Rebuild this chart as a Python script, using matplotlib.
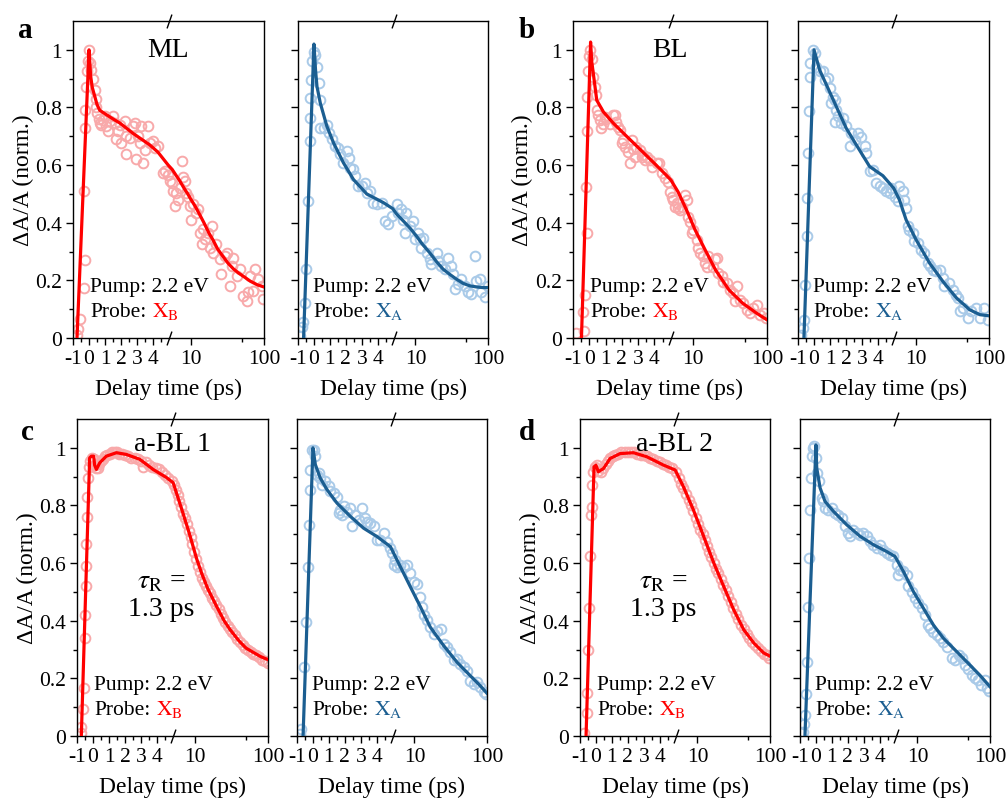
import numpy as np
import matplotlib
matplotlib.use("Agg")
import matplotlib.pyplot as plt
from matplotlib.offsetbox import TextArea, HPacker, VPacker, AnnotationBbox

plt.rcParams['font.family'] = ['Liberation Serif', 'DejaVu Serif']
plt.rcParams['mathtext.fontset'] = 'stix'

# ---- data (delay time in ps, normalised dA/A) ----
# a: ML, probe X_B
a_red_t = [-0.75, -0.69, -0.58, -0.33, -0.27, -0.31, -0.27, -0.27, -0.21, -0.125, -0.06, 0, 0.08, 0.15, 0.25,
           0.35, 0.42, 0.46, 0.52, 0.6, 0.67, 0.77, 0.875, 0.98, 1.08, 1.19, 1.29, 1.5, 1.6, 1.71, 1.81, 1.92,
           2.02, 2.23, 2.29, 2.33, 2.54, 2.75, 2.85, 2.96, 3.06, 3.17, 3.27, 3.375, 3.48, 3.69, 3.79, 4.0, 4.1,
           4.31, 4.625, 4.73, 4.94, 5.1, 5.4, 5.68, 5.96, 6.3, 6.6, 7.0, 7.4, 7.8, 8.2, 8.6, 9.1, 9.6, 10.1,
           10.7, 11.8, 12.5, 13.2, 13.9, 14.6, 15.4, 17.2, 18.1, 19.1, 20.2, 22.3, 24.8, 26.1, 29.0, 30.6, 34.2,
           36.1, 37.8, 42, 46.8, 52, 57.7, 61, 64.3, 71.5, 75.4, 83.6, 93, 98]
a_red_y = [0.01, 0.03, 0.066, 0.175, 0.27, 0.51, 0.73, 0.79, 0.87, 0.925, 0.96, 1.0, 0.954, 0.93, 0.90,
           0.86, 0.83, 0.80, 0.78, 0.76, 0.746, 0.74, 0.758, 0.77, 0.735, 0.717, 0.752, 0.77, 0.746, 0.69, 0.717,
           0.74, 0.677, 0.752, 0.637, 0.70, 0.695, 0.735, 0.746, 0.62, 0.70, 0.677, 0.735, 0.608, 0.654, 0.735,
           0.677, 0.683, 0.66, 0.665, 0.573, 0.579, 0.567, 0.544, 0.539, 0.51, 0.458, 0.504, 0.48, 0.52, 0.614,
           0.56, 0.544, 0.504, 0.49, 0.458, 0.41, 0.464, 0.435, 0.446, 0.366, 0.325, 0.377, 0.343, 0.366, 0.314,
           0.389, 0.296, 0.325, 0.273, 0.221, 0.284, 0.296, 0.181, 0.25, 0.279, 0.216, 0.239, 0.146, 0.129,
           0.158, 0.216, 0.164, 0.239, 0.204, 0.181, 0.135]
a_red_fit_t = [-0.75, 0, 0.1, 0.2, 0.35, 0.5, 0.67, 1.08, 1.5, 1.92, 2.75, 3.79, 4.3, 4.94, 5.5, 6.2, 7, 8, 9,
               10, 11.5, 13, 15, 17.5, 20, 23, 27, 32, 38, 45, 55, 65, 80, 100]
a_red_fit_y = [0, 1.0, 0.91, 0.87, 0.84, 0.81, 0.79, 0.775, 0.76, 0.746, 0.71, 0.67, 0.645, 0.60, 0.585,
               0.565, 0.545, 0.52, 0.50, 0.48, 0.455, 0.43, 0.40, 0.365, 0.34, 0.31, 0.285, 0.26, 0.24, 0.225,
               0.21, 0.197, 0.185, 0.177]

# a: ML, probe X_A
a_blue_t = [-0.85, -0.75, -0.69, -0.58, -0.48, -0.375, -0.27, -0.23, -0.23, -0.17, -0.125, -0.02, 0.08, 0.19,
            0.29, 0.40, 0.4, 0.6, 0.81, 0.92, 1.13, 1.33, 1.54, 1.65, 1.85, 2.06, 2.17, 2.27, 2.48, 2.58, 2.79,
            3.0, 3.21, 3.31, 3.52, 3.73, 3.94, 4.25, 4.46, 4.67, 4.875, 5.5, 5.8, 6.4, 6.8, 7.2, 7.5, 8.4, 9.3,
            9.8, 10.9, 11.5, 12.1, 12.8, 14.2, 15.7, 16.5, 19.6, 20.5, 22.8, 25.3, 28.2, 31, 33.2, 35, 38.7, 43,
            47.8, 53.1, 59, 65.6, 69, 77, 81, 90, 99]
a_blue_y = [0.008, 0.037, 0.057, 0.123, 0.24, 0.475, 0.683, 0.764, 0.833, 0.896, 0.96, 0.994, 0.983, 0.942,
            0.885, 0.827, 0.729, 0.729, 0.74, 0.712, 0.689, 0.666, 0.66, 0.637, 0.608, 0.648, 0.625, 0.59, 0.585,
            0.562, 0.527, 0.527, 0.539, 0.504, 0.51, 0.47, 0.464, 0.47, 0.406, 0.394, 0.423, 0.464, 0.435, 0.446,
            0.41, 0.366, 0.435, 0.389, 0.406, 0.343, 0.366, 0.343, 0.314, 0.348, 0.296, 0.273, 0.256, 0.296,
            0.268, 0.25, 0.239, 0.279, 0.25, 0.221, 0.17, 0.187, 0.204, 0.181, 0.158, 0.152, 0.285, 0.198,
            0.204, 0.158, 0.141, 0.181]
a_blue_fit_t = [-0.65, 0, 0.1, 0.19, 0.40, 0.81, 1.23, 1.85, 2.48, 3.31, 4.35, 4.94, 5.5, 6.8, 8.5, 10.3, 12.5,
                15.7, 19.5, 24, 30, 36.8, 45, 56, 70, 85, 100]
a_blue_fit_y = [0, 1.02, 0.93, 0.873, 0.815, 0.735, 0.677, 0.608, 0.55, 0.50, 0.47, 0.449, 0.43, 0.406, 0.38,
                0.354, 0.325, 0.296, 0.265, 0.239, 0.22, 0.204, 0.19, 0.181, 0.177, 0.175, 0.175]

# b: BL, probe X_B
b_red_t = [-0.79, -0.34, -0.38, -0.28, -0.14, -0.18, -0.14, -0.14, -0.08, -0.01, 0.07, 0.19, 0.23, 0.34, 0.40,
           0.48, 0.54, 0.64, 0.75, 0.85, 0.95, 1.05, 1.26, 1.47, 1.57, 1.67, 1.77, 1.88, 1.98, 2.08, 2.19, 2.39,
           2.49, 2.6, 2.7, 2.8, 2.9, 3.11, 3.21, 3.32, 3.42, 3.52, 3.73, 3.83, 4.14, 4.3, 4.45, 4.65, 4.86, 4.96,
           5.15, 5.4, 5.7, 6.0, 6.3, 6.7, 7.1, 7.8, 8.2, 8.7, 9.1, 9.6, 10.1, 11.2, 11.8, 12.5, 13.8, 14.5, 15.3,
           16.1, 18.9, 19.9, 21, 22.1, 24.5, 25.8, 28.6, 31.7, 35.2, 37.1, 39, 43.3, 48, 53.4, 59.2, 65.7, 72.9,
           81, 90, 97]
b_red_y = [0.017, 0.023, 0.09, 0.15, 0.363, 0.525, 0.72, 0.836, 0.928, 0.98, 0.998, 0.969, 0.905, 0.87, 0.842,
           0.79, 0.773, 0.755, 0.727, 0.744, 0.767, 0.761, 0.744, 0.773, 0.773, 0.75, 0.732, 0.721, 0.675,
           0.686, 0.663, 0.646, 0.606, 0.686, 0.657, 0.629, 0.663, 0.652, 0.629, 0.634, 0.617, 0.629, 0.617,
           0.594, 0.606, 0.606, 0.571, 0.554, 0.542, 0.507, 0.49, 0.479, 0.456, 0.467, 0.45, 0.444, 0.456,
           0.496, 0.479, 0.421, 0.404, 0.363, 0.375, 0.34, 0.311, 0.294, 0.283, 0.26, 0.248, 0.283, 0.248,
           0.273, 0.279, 0.225, 0.216, 0.196, 0.19, 0.167, 0.156, 0.127, 0.179, 0.133, 0.121, 0.098, 0.087,
           0.104, 0.115, 0.081, 0.087, 0.069]
b_red_fit_t = [-0.48, 0.08, 0.15, 0.25, 0.46, 0.875, 1.5, 2.33, 3.17, 4.0, 4.625, 5.04, 6.3, 8.2, 10.7, 14.6,
               20.2, 30.6, 46.8, 71.5, 100]
b_red_fit_y = [0, 1.027, 0.96, 0.917, 0.825, 0.784, 0.744, 0.698, 0.652, 0.606, 0.571, 0.548, 0.507, 0.444,
               0.375, 0.306, 0.236, 0.167, 0.121, 0.087, 0.063]

# b: BL, probe X_A
b_blue_t = [-0.79, -0.69, -0.63, -0.54, -0.44, -0.44, -0.38, -0.31, -0.27, -0.23, -0.06, 0.04, 0.14, 0.35, 0.56,
            0.66, 0.87, 0.98, 1.18, 1.29, 1.08, 1.39, 1.29, 1.49, 1.7, 1.81, 2.01, 2.22, 2.33, 2.53, 2.74, 2.95,
            3.16, 3.26, 3.47, 3.68, 3.89, 4.09, 4.3, 4.51, 4.72, 4.82, 5.1, 5.6, 5.9, 6.6, 6.9, 7.3, 7.7, 8.1,
            9.0, 9.5, 10.6, 11.8, 12.9, 14.5, 15.3, 17.0, 18.9, 21, 23.2, 24.5, 28.7, 31.9, 35.8, 37.5, 39.5,
            43.8, 51.3, 57, 66.5, 74.8, 86.7, 96.4]
b_blue_y = [0.012, 0.035, 0.064, 0.185, 0.353, 0.486, 0.642, 0.786, 0.904, 0.954, 1.0, 0.988, 0.942, 0.925,
            0.925, 0.896, 0.902, 0.867, 0.838, 0.827, 0.817, 0.792, 0.751, 0.769, 0.746, 0.763, 0.734, 0.665,
            0.711, 0.688, 0.711, 0.699, 0.665, 0.642, 0.578, 0.584, 0.538, 0.526, 0.52, 0.509, 0.503, 0.52,
            0.49, 0.474, 0.526, 0.509, 0.48, 0.451, 0.387, 0.376, 0.364, 0.335, 0.329, 0.306, 0.295, 0.26,
            0.249, 0.237, 0.231, 0.237, 0.208, 0.179, 0.191, 0.168, 0.15, 0.139, 0.092, 0.104, 0.069, 0.092,
            0.104, 0.069, 0.104, 0.064]
b_blue_fit_t = [-0.63, 0, 0.35, 0.77, 1.39, 2.01, 2.64, 3.47, 4.3, 4.97, 5.9, 7.3, 10.0, 15.3, 23.2, 35.8, 54.4,
                74.8, 100]
b_blue_fit_y = [0, 1.0, 0.93, 0.879, 0.803, 0.728, 0.67, 0.595, 0.563, 0.52, 0.48, 0.41, 0.341, 0.26, 0.197,
                0.139, 0.098, 0.081, 0.077]

# c: a-BL 1, probe X_B
c_red_t = [-0.73, -0.72, -0.63, -0.58, -0.52, -0.51, -0.46, -0.45, -0.42, -0.38, -0.35, -0.31, -0.25, -0.17,
           -0.05, 0.05, 0.12, 0.2, 0.3, 0.4, 0.5, 0.6, 0.75, 0.9, 1.05, 1.2, 1.35, 1.5, 1.65, 1.8, 2.0, 2.2,
           2.4, 2.6, 2.8, 3.0, 3.1, 3.3, 3.5, 3.7, 3.9, 4.1, 4.3, 4.5, 4.7, 4.9, 5.2, 5.5, 5.8, 6.1, 6.5, 6.9,
           7.3, 7.7, 8.2, 8.7, 9.2, 9.8, 10.4, 11, 11.7, 12.4, 13.2, 14, 15, 16, 17, 18, 19.5, 21, 22.5, 24, 26,
           28, 30, 32.5, 35, 38, 41, 45, 49, 53, 58, 63, 69, 76, 83, 91, 99]
c_red_y = [0.01, 0.03, 0.095, 0.165, 0.34, 0.42, 0.52, 0.59, 0.665, 0.76, 0.83, 0.895, 0.935, 0.955, 0.965,
           0.96, 0.94, 0.93, 0.93, 0.945, 0.955, 0.96, 0.97, 0.975, 0.98, 0.985, 0.985, 0.985, 0.98, 0.98,
           0.975, 0.97, 0.965, 0.965, 0.96, 0.955, 0.935, 0.95, 0.94, 0.935, 0.93, 0.925, 0.915, 0.905, 0.895,
           0.885, 0.87, 0.855, 0.835, 0.815, 0.795, 0.77, 0.755, 0.735, 0.71, 0.69, 0.665, 0.64, 0.615, 0.59,
           0.57, 0.55, 0.535, 0.52, 0.505, 0.495, 0.48, 0.47, 0.455, 0.44, 0.425, 0.41, 0.395, 0.38, 0.37,
           0.36, 0.35, 0.335, 0.325, 0.315, 0.305, 0.30, 0.29, 0.285, 0.28, 0.275, 0.265, 0.26, 0.255]
c_red_fit_t = [-0.73, -0.21, -0.1, 0.04, 0.1, 0.21, 0.42, 0.83, 1.46, 2.08, 2.92, 3.75, 4.58, 5.0, 6.5, 8.4,
               10.5, 12.5, 15, 19.7, 25, 30, 40, 50, 63, 80, 100]
c_red_fit_y = [0, 0.965, 0.971, 0.971, 0.94, 0.925, 0.948, 0.971, 0.983, 0.977, 0.96, 0.925, 0.897, 0.879,
               0.79, 0.70, 0.615, 0.56, 0.51, 0.45, 0.40, 0.37, 0.33, 0.305, 0.29, 0.275, 0.265]

# c: a-BL 1, probe X_A
c_blue_t = [-0.83, -0.75, -0.54, -0.41, -0.33, -0.27, -0.2, -0.16, -0.06, 0.05, 0.15, 0.26, 0.36, 0.46, 0.57,
            0.78, 0.99, 1.09, 1.3, 1.51, 1.62, 1.72, 1.82, 1.93, 2.14, 2.35, 2.45, 2.66, 2.87, 3.08, 3.29, 3.39,
            3.6, 3.81, 4.02, 4.23, 4.44, 4.65, 4.82, 4.96, 5.2, 5.4, 5.7, 6.4, 7.1, 7.9, 8.8, 9.7, 10.8, 12.1,
            12.8, 13.4, 14.9, 16.5, 18.5, 20.6, 22.9, 25.2, 28.1, 31.2, 34.8, 38.6, 43, 47.8, 53.2, 58.9, 65.5,
            72.8, 81, 90, 98]
c_blue_y = [0.006, 0.023, 0.238, 0.395, 0.587, 0.733, 0.855, 0.924, 0.994, 0.994, 0.971, 0.907, 0.913, 0.895,
            0.872, 0.884, 0.866, 0.849, 0.843, 0.831, 0.773, 0.785, 0.767, 0.797, 0.779, 0.791, 0.727, 0.767,
            0.75, 0.791, 0.756, 0.744, 0.738, 0.727, 0.68, 0.68, 0.703, 0.674, 0.651, 0.634, 0.593, 0.61, 0.587,
            0.593, 0.587, 0.593, 0.564, 0.535, 0.529, 0.483, 0.448, 0.419, 0.401, 0.378, 0.355, 0.366, 0.372,
            0.32, 0.308, 0.291, 0.262, 0.267, 0.25, 0.238, 0.227, 0.192, 0.18, 0.186, 0.169, 0.151, 0.145]
c_blue_fit_t = [-0.62, 0, 0.15, 0.46, 0.88, 1.51, 2.35, 3.18, 4.02, 4.86, 6.4, 8.8, 12.1, 16.5, 25.2, 38.6, 58.9,
                81, 100]
c_blue_fit_y = [0, 1.0, 0.942, 0.895, 0.855, 0.808, 0.762, 0.721, 0.692, 0.657, 0.587, 0.517, 0.448, 0.378,
                0.314, 0.256, 0.209, 0.174, 0.148]

# d: a-BL 2, probe X_B
d_red_t = [-0.75, -0.58, -0.54, -0.48, -0.41, -0.37, -0.33, -0.27, -0.27, -0.2, -0.06, 0.04, 0.15, 0.3, 0.45,
           0.6, 0.75, 0.9, 1.05, 1.2, 1.4, 1.6, 1.8, 2.0, 2.2, 2.4, 2.6, 2.8, 3.0, 3.2, 3.4, 3.6, 3.8, 4.0, 4.2,
           4.4, 4.6, 4.8, 5.1, 5.5, 6.0, 6.4, 7.0, 7.6, 8.2, 8.8, 9.5, 10.2, 11, 11.8, 12.6, 13.5, 14.5, 15.6,
           16.8, 18, 19.4, 21, 22.7, 24.5, 26.5, 28.7, 31, 33.5, 36.5, 40, 43.5, 47.5, 52, 57, 62, 68, 75, 82,
           90, 98]
d_red_y = [0.012, 0.08, 0.15, 0.30, 0.444, 0.623, 0.767, 0.796, 0.871, 0.917, 0.934, 0.94, 0.92, 0.915, 0.93,
           0.945, 0.955, 0.965, 0.97, 0.975, 0.98, 0.985, 0.985, 0.985, 0.985, 0.985, 0.98, 0.975, 0.975, 0.97,
           0.965, 0.96, 0.955, 0.95, 0.945, 0.94, 0.935, 0.93, 0.915, 0.895, 0.875, 0.86, 0.84, 0.82, 0.80,
           0.78, 0.755, 0.735, 0.715, 0.70, 0.68, 0.66, 0.64, 0.62, 0.60, 0.58, 0.565, 0.545, 0.525, 0.505,
           0.485, 0.465, 0.445, 0.425, 0.405, 0.385, 0.37, 0.355, 0.34, 0.325, 0.315, 0.305, 0.295, 0.285,
           0.28, 0.272]
d_red_fit_t = [-0.62, -0.12, 0.0, 0.15, 0.47, 0.89, 1.52, 2.35, 3.19, 4.24, 4.97, 6.4, 8.8, 12.2, 16.8, 23,
               31.6, 43.4, 59.6, 82, 100]
d_red_fit_y = [0, 0.934, 0.94, 0.917, 0.928, 0.963, 0.98, 0.983, 0.969, 0.94, 0.923, 0.865, 0.784, 0.692, 0.6,
               0.519, 0.438, 0.369, 0.323, 0.288, 0.277]

# d: a-BL 2, probe X_A
d_blue_t = [-0.83, -0.75, -0.69, -0.62, -0.58, -0.48, -0.41, -0.37, -0.33, -0.27, -0.2, -0.1, 0.0, 0.09, 0.21,
            0.36, 0.46, 0.57, 0.78, 0.99, 1.2, 1.41, 1.62, 1.82, 2.03, 2.14, 2.35, 2.56, 2.77, 2.97, 3.18, 3.39,
            3.6, 3.81, 4.02, 4.23, 4.44, 4.65, 4.86, 5.2, 5.4, 5.7, 6.4, 7.1, 7.5, 8.3, 9.2, 10.2, 11.4, 12.7,
            14.1, 14.9, 16.6, 18.5, 20.6, 22.8, 25.2, 29.7, 33.1, 36.9, 40.9, 45.4, 50.3, 55.9, 62, 68.6, 76.1,
            84.4, 91, 97]
d_blue_y = [0.014, 0.043, 0.072, 0.147, 0.258, 0.449, 0.617, 0.785, 0.896, 0.971, 1.0, 1.006, 0.965, 0.913,
            0.884, 0.826, 0.814, 0.79, 0.784, 0.79, 0.774, 0.768, 0.756, 0.727, 0.704, 0.693, 0.716, 0.704,
            0.698, 0.704, 0.693, 0.675, 0.664, 0.652, 0.664, 0.646, 0.635, 0.629, 0.623, 0.594, 0.559, 0.577,
            0.571, 0.559, 0.519, 0.501, 0.478, 0.46, 0.443, 0.42, 0.385, 0.374, 0.362, 0.35, 0.339, 0.327, 0.31,
            0.269, 0.263, 0.281, 0.269, 0.246, 0.234, 0.211, 0.2, 0.194, 0.176, 0.194, 0.165, 0.155]
d_blue_fit_t = [-0.69, 0, 0.05, 0.26, 0.57, 1.09, 1.93, 2.77, 3.6, 4.44, 4.96, 6.4, 8.8, 12.1, 16.6, 22.8, 35,
                53, 72.5, 100]
d_blue_fit_y = [0, 1.01, 0.93, 0.861, 0.814, 0.78, 0.733, 0.693, 0.664, 0.64, 0.623, 0.571, 0.501, 0.443,
                0.385, 0.339, 0.292, 0.246, 0.211, 0.171]

titles = ['ML', 'BL', 'a-BL 1', 'a-BL 2']
letters = ['a', 'b', 'c', 'd']
x_ticks = [-1, 0, 1, 2, 3, 4, 10, 100]
x_ticklabels = ['-1', '0', '1', '2', '3', '4', '10', '100']
y_ticks = [0, 0.2, 0.4, 0.6, 0.8, 1.0]
y_ticklabels = ['0', '0.2', '0.4', '0.6', '0.8', '1']

RED_LINE, RED_PT = '#ff0000', '#f8a9aa'
BLUE_LINE, BLUE_PT = '#1b5e91', '#a9cae8'

# broken axis: linear up to 5 ps, log above
BREAK = 5.0
C = 4.55


def fwd(x):
    x = np.asarray(x, dtype=float)
    return np.where(x <= BREAK, x, BREAK + C * np.log10(np.maximum(x, BREAK) / BREAK))


def inv(u):
    u = np.asarray(u, dtype=float)
    return np.where(u <= BREAK, u, BREAK * 10 ** ((np.clip(u, BREAK, 40) - BREAK) / C))


W, H = 1006, 803
fig = plt.figure(figsize=(W / 100, H / 100), dpi=100)


def make_ax(l, t, r, b):
    return fig.add_axes([l / W, 1 - b / H, (r - l) / W, (b - t) / H])


def setup(ax, left_panel):
    ax.set_xscale('function', functions=(fwd, inv))
    ax.set_xlim(-1, 100)
    ax.set_ylim(0, 1.1)
    ax.set_xticks(x_ticks)
    ax.set_xticklabels(x_ticklabels)
    ax.set_xticks([-0.5, 0.5, 1.5, 2.5, 3.5, 4.5, 50], minor=True)
    ax.set_yticks(y_ticks)
    ax.set_yticks(np.arange(0.1, 1.1, 0.2), minor=True)
    if left_panel:
        ax.set_yticklabels(y_ticklabels)
        ax.set_ylabel('ΔA/A (norm.)', fontsize=17)
        ax.yaxis.set_label_coords(-0.205, 0.5)
    else:
        ax.set_yticklabels([])
    ax.tick_params(which='both', direction='out', top=False, right=False, labelsize=15.5, width=1)
    ax.tick_params(which='major', length=5, pad=3)
    ax.tick_params(which='minor', length=3)
    ax.set_xlabel('Delay time (ps)', fontsize=17, labelpad=7)
    for s in ax.spines.values():
        s.set_linewidth(1.0)
    # break marks on top and bottom spines
    for yy in (0, 1):
        ax.plot([BREAK], [yy], marker=[(-0.35, -1), (0.35, 1)], markersize=10, mec='k', mew=1,
                transform=ax.get_xaxis_transform(), clip_on=False, zorder=5)


def pump_probe(ax, x, color, sub):
    pump = TextArea('Pump: 2.2 eV', textprops=dict(fontsize=15.5))
    lab = TextArea('Probe:', textprops=dict(fontsize=15.5))
    xs = TextArea(r'$\mathrm{X}_\mathrm{%s}$' % sub, textprops=dict(fontsize=15.5, color=color))
    row = HPacker(children=[lab, xs], align='baseline', pad=0, sep=4)
    box = VPacker(children=[pump, row], align='left', pad=0, sep=3)
    ab = AnnotationBbox(box, (x, 0.135), xycoords=('axes fraction', 'data'), box_alignment=(0, 0.5),
                        frameon=False, pad=0)
    ax.add_artist(ab)


def draw(ax, t, y, ft, fy, pt_col, line_col):
    ax.plot(t, y, 'o', mfc='none', mec=pt_col, ms=7, mew=1.4, zorder=2)
    ax.plot(ft, fy, '-', color=line_col, lw=2.3, zorder=3)


panels = [
    ((73, 22, 264, 339), (298, 22, 488, 339), a_red_t, a_red_y, a_red_fit_t, a_red_fit_y,
     a_blue_t, a_blue_y, a_blue_fit_t, a_blue_fit_y, (25, 30)),
    ((573, 22, 767, 339), (798, 22, 989, 339), b_red_t, b_red_y, b_red_fit_t, b_red_fit_y,
     b_blue_t, b_blue_y, b_blue_fit_t, b_blue_fit_y, (527, 30)),
    ((77, 420, 268, 737), (297, 420, 487, 737), c_red_t, c_red_y, c_red_fit_t, c_red_fit_y,
     c_blue_t, c_blue_y, c_blue_fit_t, c_blue_fit_y, (27, 433)),
    ((580, 420, 770, 737), (800, 420, 990, 737), d_red_t, d_red_y, d_red_fit_t, d_red_fit_y,
     d_blue_t, d_blue_y, d_blue_fit_t, d_blue_fit_y, (527, 432)),
]

for i, (pl, pr, rt, ry, rft, rfy, bt, by, bft, bfy, lpos) in enumerate(panels):
    axl = make_ax(*pl)
    axr = make_ax(*pr)
    setup(axl, True)
    setup(axr, False)
    draw(axl, rt, ry, rft, rfy, RED_PT, RED_LINE)
    draw(axr, bt, by, bft, bfy, BLUE_PT, BLUE_LINE)
    pump_probe(axl, 0.09, RED_LINE, 'B')
    pump_probe(axr, 0.08, BLUE_LINE, 'A')
    ty = 1.0 if i < 2 else 1.015
    axl.text(0.5, ty, titles[i], transform=axl.get_yaxis_transform(), ha='center', va='center', fontsize=20)
    if i >= 2:
        axl.text(0.44, 0.49, r'$\tau_\mathrm{R}$ =' + '\n1.3 ps', transform=axl.get_yaxis_transform(),
                 ha='center', va='center', fontsize=20, linespacing=1.1)
    fig.text(lpos[0] / W, 1 - lpos[1] / H, letters[i], fontsize=21, fontweight='bold', ha='center',
             va='center')

fig.savefig('out.png', dpi=100)
